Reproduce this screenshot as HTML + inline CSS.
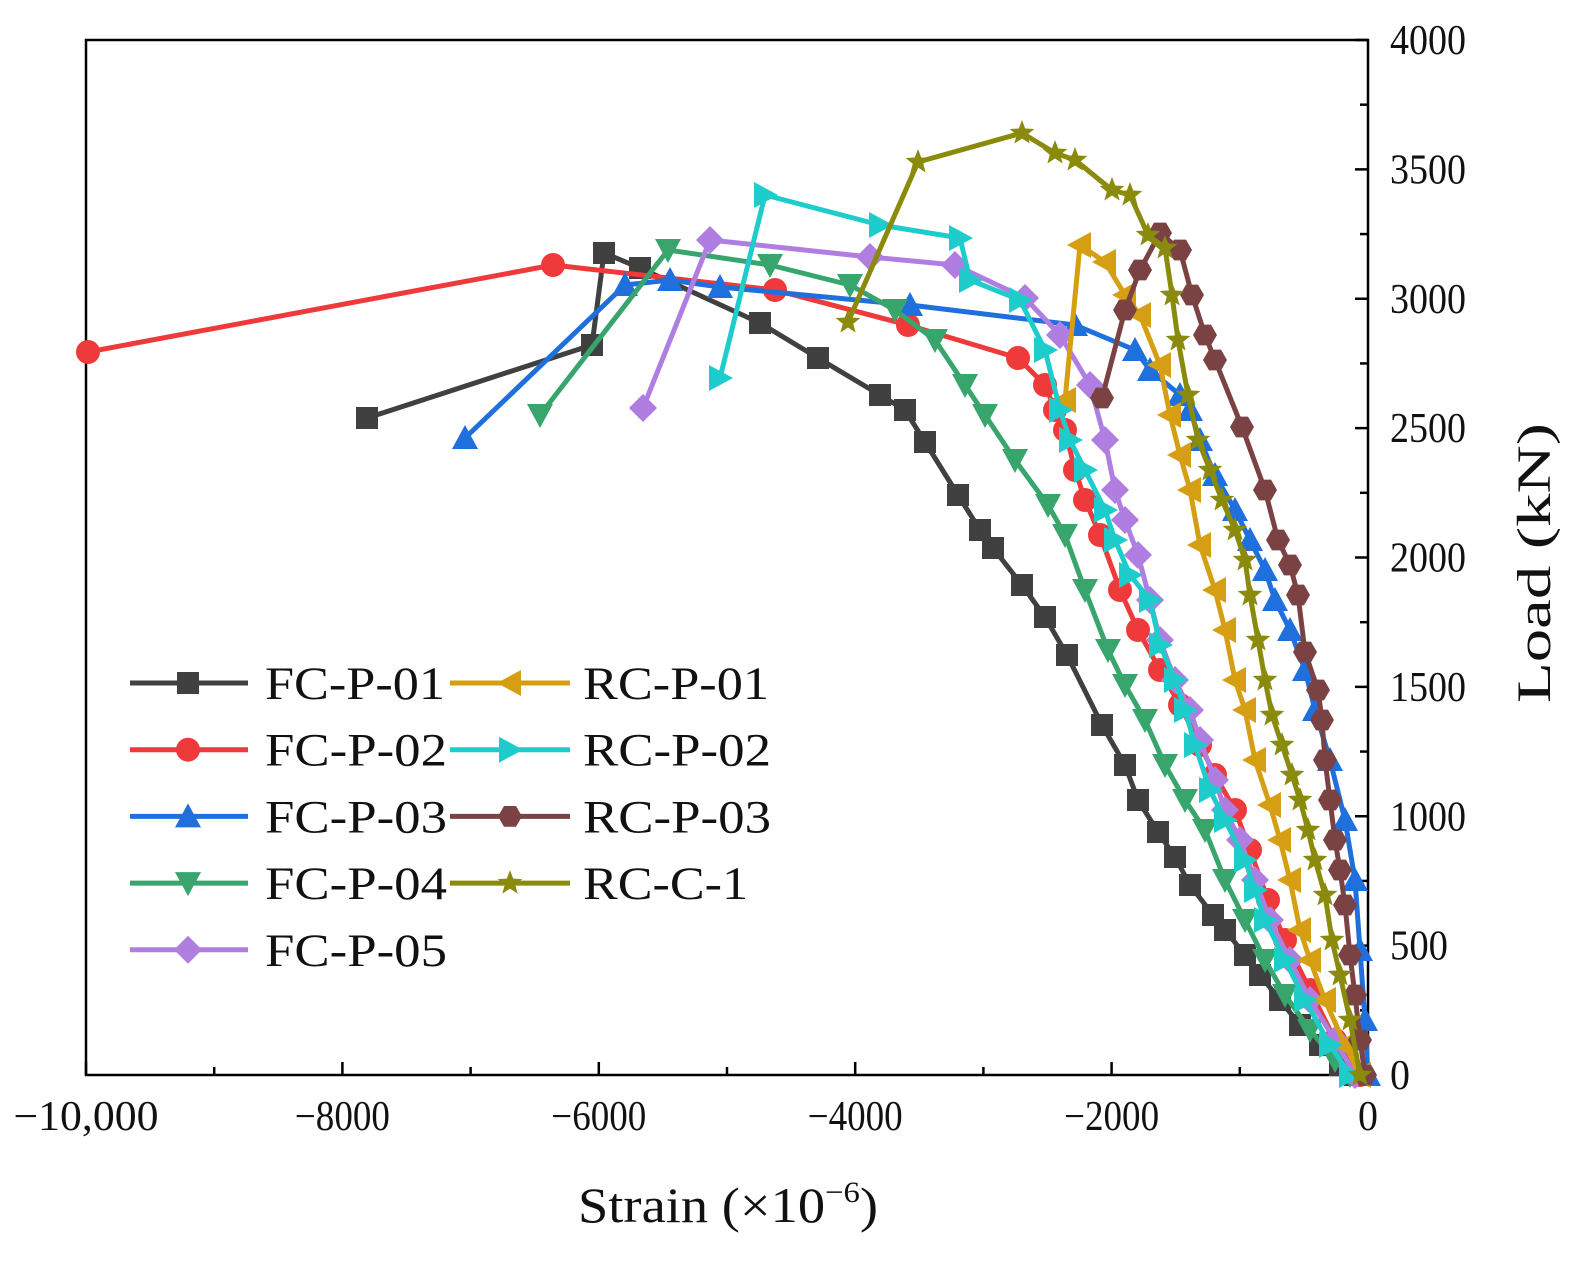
<!DOCTYPE html>
<html><head><meta charset="utf-8"><style>
body{margin:0;background:#fff}
svg text{font-family:"Liberation Serif",serif;fill:#111}
</style></head><body>
<svg id="s" width="1582" height="1266" xmlns="http://www.w3.org/2000/svg">
<rect x="86" y="40" width="1282" height="1035" fill="none" stroke="#000" stroke-width="2.5"/>
<g id="ax" stroke="#000" stroke-width="2.5"></g>
<g id="ser"></g>
<text x="578" y="1222" font-size="50" textLength="300" lengthAdjust="spacingAndGlyphs">Strain (×10<tspan dy="-20" font-size="30">−6</tspan><tspan dy="20">)</tspan></text>
<text transform="translate(1550,563) rotate(-90)" font-size="48" text-anchor="middle" textLength="280" lengthAdjust="spacingAndGlyphs">Load (kN)</text>
</svg>
<script>
var s=document.getElementById('s'),ax=document.getElementById('ax'),ser=document.getElementById('ser');
var NS="http://www.w3.org/2000/svg";
function el(t,a,p){var e=document.createElementNS(NS,t);for(var k in a)e.setAttribute(k,a[k]);(p||s).appendChild(e);return e;}
function X(v){return 1368+0.1282*v;}
function Y(v){return 1075-0.25875*v;}
for(var v=-10000;v<=0;v+=1000){var x=X(v);el('line',{x1:x,y1:1075,x2:x,y2:v%2000==0?1062:1067},ax);
 if(v%2000==0){var str=v==0?'0':(v==-10000?'−10,000':'−'+(-v));var t=el('text',{x:x,y:1130,'font-size':42,'text-anchor':'middle',textLength:v==0?20:(v==-10000?145:95),lengthAdjust:'spacingAndGlyphs'});t.textContent=str;}}
for(var v=0;v<=4000;v+=250){var y=Y(v);el('line',{x1:1368,y1:y,x2:v%500==0?1355:1360,y2:y},ax);
 var t=el('text',{x:1390,y:y+14,'font-size':42,textLength:v==0?20:(v<1000?58:76),lengthAdjust:'spacingAndGlyphs'});
 if(v%500==0)t.textContent=v; else t.remove();}
function mk(type,x,y,c,g){var r=11;
 if(type=='sq')el('rect',{x:x-r,y:y-r,width:2*r,height:2*r,fill:c},g);
 else if(type=='ci')el('circle',{cx:x,cy:y,r:r+1,fill:c},g);
 else if(type=='tu')el('polygon',{points:[x,y-r-2,x-r-2,y+r,x+r+2,y+r].join(' '),fill:c},g);
 else if(type=='td')el('polygon',{points:[x,y+r+2,x-r-2,y-r,x+r+2,y-r].join(' '),fill:c},g);
 else if(type=='di')el('polygon',{points:[x,y-r-3,x+r+3,y,x,y+r+3,x-r-3,y].join(' '),fill:c},g);
 else if(type=='tl')el('polygon',{points:[x-r-2,y,x+r,y-r-2,x+r,y+r+2].join(' '),fill:c},g);
 else if(type=='tr')el('polygon',{points:[x+r+2,y,x-r,y-r-2,x-r,y+r+2].join(' '),fill:c},g);
 else if(type=='hx'){var p=[];for(var i=0;i<6;i++){var a=Math.PI/3*i;p.push(x+12*Math.cos(a),y+12*Math.sin(a));}el('polygon',{points:p.join(' '),fill:c},g);}
 else if(type=='st'){var p=[];for(var i=0;i<10;i++){var a=-Math.PI/2+Math.PI/5*i,rr=i%2?5.5:13;p.push(x+rr*Math.cos(a),y+rr*Math.sin(a));}el('polygon',{points:p.join(' '),fill:c},g);}
}
var S=[
['FC-P-01','#404040','sq',[[367,418],[592,345],[604,253],[640,268],[760,323],[818,358],[880,395],[905,410],[925,442],[958,495],[980,530],[993,548],[1022,585],[1045,617],[1067,655],[1102,725],[1125,765],[1138,800],[1158,832],[1175,857],[1190,885],[1213,915],[1225,930],[1245,955],[1260,975],[1280,1000],[1300,1025],[1320,1045],[1340,1065],[1355,1075]]],
['FC-P-02','#ee3a3a','ci',[[88,352],[553,265],[775,290],[908,325],[1018,358],[1045,385],[1055,410],[1065,430],[1075,470],[1085,500],[1100,535],[1120,590],[1138,630],[1160,670],[1180,705],[1200,745],[1215,775],[1235,810],[1250,850],[1268,900],[1285,940],[1310,990],[1335,1040],[1360,1075]]],
['FC-P-03','#1f6fdc','tu',[[465,438],[625,285],[670,280],[720,287],[910,305],[1075,325],[1135,350],[1150,370],[1180,395],[1190,410],[1200,440],[1215,475],[1235,510],[1250,540],[1265,570],[1275,600],[1290,630],[1305,670],[1315,710],[1330,760],[1345,820],[1355,880],[1360,950],[1365,1020],[1368,1075]]],
['FC-P-04','#38a56c','td',[[540,415],[668,250],[770,265],[850,285],[895,310],[935,340],[965,385],[985,415],[1015,460],[1048,505],[1065,535],[1085,590],[1108,650],[1125,685],[1145,720],[1165,765],[1185,800],[1205,830],[1225,880],[1245,920],[1265,960],[1285,995],[1310,1030],[1335,1060],[1350,1075]]],
['FC-P-05','#b07ee0','di',[[643,408],[710,240],[870,257],[955,265],[1025,298],[1060,335],[1090,385],[1105,440],[1115,490],[1125,520],[1138,555],[1150,600],[1160,640],[1175,680],[1190,710],[1200,740],[1215,780],[1225,810],[1240,840],[1255,880],[1270,920],[1290,960],[1310,1000],[1335,1040],[1355,1075]]],
['RC-P-01','#d69e12','tl',[[1065,400],[1080,245],[1105,262],[1125,295],[1140,315],[1160,365],[1170,415],[1180,455],[1190,490],[1200,545],[1215,590],[1225,630],[1235,680],[1245,710],[1255,760],[1270,805],[1280,840],[1290,880],[1300,930],[1310,960],[1325,1000],[1345,1045],[1360,1075]]],
['RC-P-02','#1fcccc','tr',[[720,378],[765,195],[880,225],[960,238],[970,280],[1020,300],[1045,350],[1060,410],[1070,440],[1085,470],[1105,510],[1115,540],[1130,575],[1150,600],[1160,645],[1175,680],[1185,710],[1195,745],[1210,790],[1225,820],[1245,860],[1255,890],[1265,920],[1285,960],[1305,1000],[1330,1045],[1350,1075]]],
['RC-P-03','#7a4242','hx',[[1102,398],[1125,310],[1140,270],[1160,233],[1180,250],[1192,295],[1205,335],[1215,360],[1242,427],[1265,490],[1278,540],[1290,565],[1298,595],[1305,652],[1318,690],[1322,720],[1325,760],[1330,800],[1335,840],[1340,870],[1345,905],[1350,955],[1355,995],[1360,1040],[1365,1075]]],
['RC-C-1','#8a8a0c','st',[[848,322],[918,162],[1022,133],[1055,153],[1075,160],[1112,190],[1130,195],[1148,235],[1165,248],[1172,295],[1178,340],[1188,395],[1198,440],[1210,470],[1222,500],[1235,530],[1245,560],[1250,595],[1258,640],[1265,680],[1272,715],[1282,745],[1292,775],[1300,800],[1308,830],[1315,860],[1325,895],[1332,940],[1340,975],[1350,1020],[1360,1075]]]
];
var TL={'FC-P-01':180,'FC-P-02':182,'FC-P-03':182,'FC-P-04':182,'FC-P-05':182,'RC-P-01':186,'RC-P-02':188,'RC-P-03':188,'RC-C-1':165};
S.forEach(function(d,i){var g=el('g',{},ser);
 el('polyline',{points:d[3].join(' '),fill:'none',stroke:d[1],'stroke-width':5,'stroke-linejoin':'round'},g);
 d[3].forEach(function(p){mk(d[2],p[0],p[1],d[1],g);});
 var col=i<5?0:1,row=i<5?i:i-5,y=683+row*66.7;
 var x1=col?450:130,x2=col?570:248,xm=col?510:188,xt=col?583:265;
 el('line',{x1:x1,y1:y,x2:x2,y2:y,stroke:d[1],'stroke-width':5},g);mk(d[2],xm,y,d[1],g);
 var t=el('text',{x:xt,y:y+16,'font-size':47,textLength:TL[d[0]],lengthAdjust:'spacingAndGlyphs'});t.textContent=d[0];
});
</script>
</body></html>
